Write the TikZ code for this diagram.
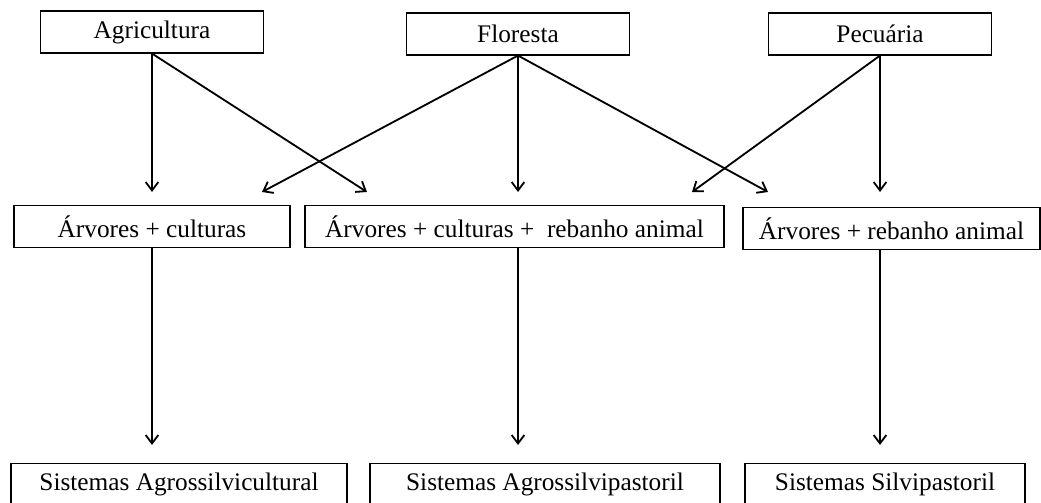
\documentclass[tikz,border=0pt]{standalone}
\usepackage{fontspec}
\setmainfont{Liberation Serif}
\usetikzlibrary{arrows.meta}

\begin{document}
\begin{tikzpicture}[x=0.025cm,y=-0.025cm,
  box/.style={draw,line width=0.8pt,minimum height=1.07cm,inner sep=0pt,
              font=\fontsize{18}{20}\selectfont},
  arr/.style={-{Straight Barb[length=6pt,width=9pt]},line width=1.3pt}]
  \useasboundingbox (0,0) rectangle (1041,503);
  % top row
  \node[box,minimum width=5.575cm,minimum height=1.05cm] (agr) at (152,32) {Agricultura};
  \node[box,minimum width=5.575cm,minimum height=1.05cm] (flo) at (518,34) {Floresta};
  \node[box,minimum width=5.575cm,minimum height=1.05cm] (pec) at (880,34) {Pecuária};
  % middle row
  \node[box,minimum width=6.9cm] (arvc) at (152,226.5) {Árvores + culturas};
  \node[box,minimum width=10.475cm] (arvcr) at (514.5,226.5) {Árvores + culturas +\ \ rebanho animal};
  \node[box,minimum width=7.425cm] (arvr) at (891.5,228.5) {Árvores + rebanho animal};
  % bottom row
  \node[box,minimum width=8.4cm] (sag) at (179,484.5) {Sistemas Agrossilvicultural};
  \node[box,minimum width=8.75cm] (sap) at (545,484.5) {Sistemas Agrossilvipastoril};
  \node[box,minimum width=7cm] (ssp) at (885,484.5) {Sistemas Silvipastoril};
  % arrow tips
  \coordinate (ta1) at (152,192);
  \coordinate (ta2) at (367,192);
  \coordinate (tf1) at (262,192);
  \coordinate (tf2) at (518,192);
  \coordinate (tf3) at (768,192);
  \coordinate (tp1) at (692,192);
  \coordinate (tp2) at (880,192);
  \coordinate (tb1) at (152,445);
  \coordinate (tb2) at (518,445);
  \coordinate (tb3) at (880,445);
  % connectors
  \draw[arr] (agr.south) -- (ta1);
  \draw[arr] (agr.south) -- (ta2);
  \draw[arr] (flo.south) -- (tf1);
  \draw[arr] (flo.south) -- (tf2);
  \draw[arr] (flo.south) -- (tf3);
  \draw[arr] (pec.south) -- (tp1);
  \draw[arr] (pec.south) -- (tp2);
  \draw[arr] (arvc.south) -- (tb1);
  \draw[arr] (arvcr.south -| tb2) -- (tb2);
  \draw[arr] (arvr.south -| tb3) -- (tb3);
\end{tikzpicture}
\end{document}
